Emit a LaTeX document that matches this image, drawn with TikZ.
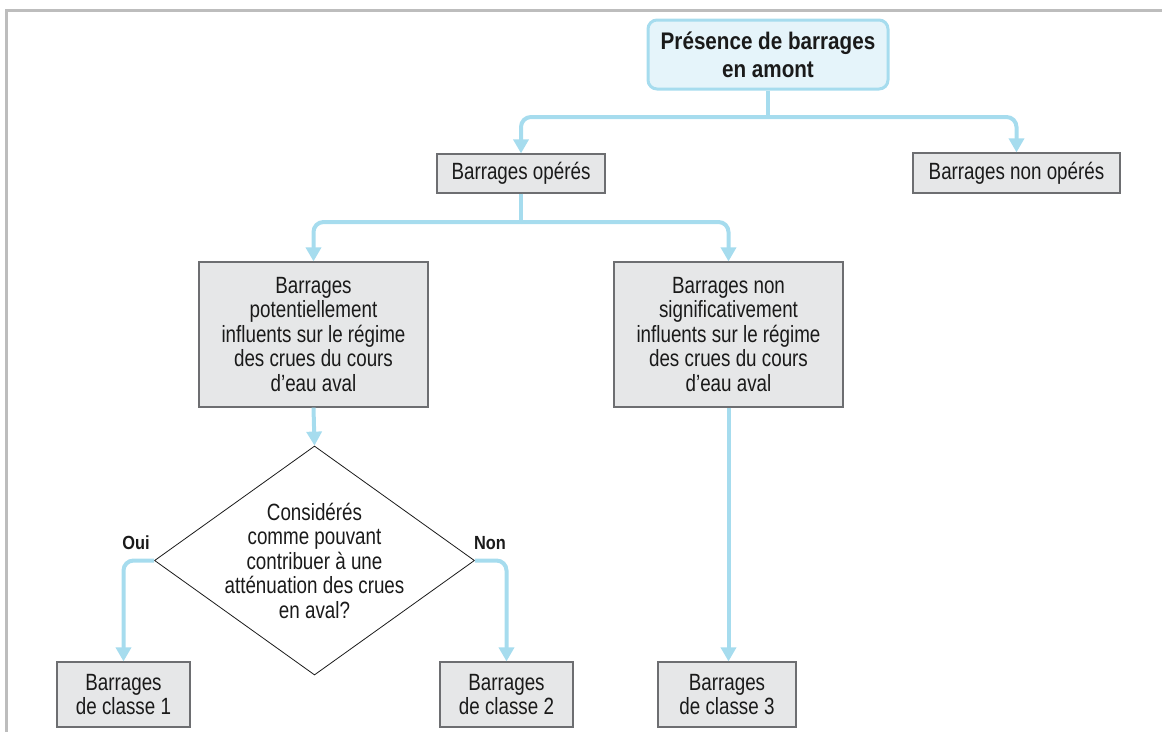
\documentclass[tikz,border=0pt]{standalone}
\usepackage{fontspec}
\setmainfont{Liberation Sans}[FakeStretch=0.86]
\newfontfamily\regfont{Liberation Sans}[FakeStretch=0.80]
\usetikzlibrary{shapes.geometric,arrows.meta}
\definecolor{flow}{HTML}{A6DCEE}
\definecolor{boxfill}{HTML}{E6E7E8}
\definecolor{boxline}{HTML}{6D6E71}
\definecolor{topfill}{HTML}{E5F4FA}
\definecolor{framegray}{HTML}{BDBDBD}
\definecolor{ink}{HTML}{1A1A1A}
\begin{document}
\begin{tikzpicture}[x=1pt,y=-1pt,
  txt/.style={font=\regfont\fontsize{23.5}{24.5}\selectfont, text=ink, align=center},
  gbox/.style={txt, draw=boxline, fill=boxfill, line width=1.2pt, inner sep=0pt},
  topbox/.style={draw=flow, fill=topfill, line width=3pt, rounded corners=9pt, inner sep=0pt, align=center, text=ink, font=\fontsize{24}{28}\selectfont\bfseries},
  conn/.style={draw=flow, line width=4pt, rounded corners=10pt, -{Triangle[length=14pt,width=15pt]}},
  plainconn/.style={draw=flow, line width=4pt},
  lab/.style={font=\fontsize{19}{20}\selectfont\bfseries, text=ink}
]
\useasboundingbox (0,0) rectangle (1162,732);
\draw[framegray, line width=3pt] (1162,10) -- (6.5,10) -- (6.5,732);

\node[topbox, minimum width=240pt, minimum height=69pt] (top) at (768,54.5) {Présence de barrages\\en amont};
\node[gbox, minimum width=168pt, minimum height=39pt] (bo) at (521,173.5) {Barrages opérés};
\node[gbox, minimum width=207pt, minimum height=40pt] (bno) at (1016.5,173) {Barrages non opérés};
\node[gbox, minimum width=229pt, minimum height=145pt] (pi) at (313.5,334.5) {Barrages\\potentiellement\\influents sur le régime\\des crues du cours\\d’eau aval};
\node[gbox, minimum width=229pt, minimum height=145pt] (ns) at (728.5,334.5) {Barrages non\\significativement\\influents sur le régime\\des crues du cours\\d’eau aval};
\node[diamond, draw=ink, line width=0.8pt, minimum width=320pt, minimum height=229pt, inner sep=0pt] (q) at (314.5,560.5) {};
\node[txt] (qt) at (q.center) {Considérés\\comme pouvant\\contribuer à une\\atténuation des crues\\en aval?};
\node[gbox, minimum width=133pt, minimum height=65pt] (c1) at (123.5,694.5) {Barrages\\de classe 1};
\node[gbox, minimum width=133pt, minimum height=65pt] (c2) at (506.5,694.5) {Barrages\\de classe 2};
\node[gbox, minimum width=138pt, minimum height=65pt] (c3) at (727,694.5) {Barrages\\de classe 3};
\node[lab] (oui) at (136,543) {Oui};
\node[lab] (non) at (490,543) {Non};

\coordinate (j1) at (768,117);
\coordinate (j2) at (521,222);
\draw[plainconn] (top.south) -- (j1);
\draw[conn] (j1) -| (bo.north);
\draw[conn] (j1) -| (bno.north);
\draw[plainconn] (bo.south) -- (j2);
\draw[conn] (j2) -| (pi.north);
\draw[conn] (j2) -| (ns.north);
\draw[conn] (pi.south) -- (q.north);
\draw[conn] (q.west) -| (c1.north);
\draw[conn] (q.east) -| (c2.north);
\draw[conn] (ns.south) -- (ns.south |- c3.north);
\end{tikzpicture}
\end{document}
